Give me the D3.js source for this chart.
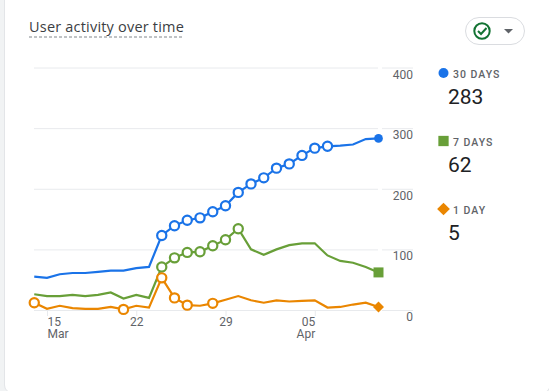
<!DOCTYPE html>
<html>
<head>
<meta charset="utf-8">
<script src="https://cdnjs.cloudflare.com/ajax/libs/d3/7.8.5/d3.min.js"></script>
<style>
  html, body { margin: 0; padding: 0; background: #f1f3f4; overflow: hidden; }
  text { font-family: Roboto, sans-serif; }
</style>
</head>
<body>
<svg id="chart" width="549" height="391"></svg>
<script>
// values
var days = ["03-14","03-15","03-16","03-17","03-18","03-19","03-20","03-21","03-22","03-23",
  "03-24","03-25","03-26","03-27","03-28","03-29","03-30","03-31","04-01","04-02",
  "04-03","04-04","04-05","04-06","04-07","04-08","04-09","04-10"];
var days30 = [55,53,59,61,61,63,65,65,69,71,123,139,148,152,162,172,194,208,218,234,241,255,267,270,271,273,282,283];
var days7 = [26,23,23,25,23,25,29,19,25,20,71,86,95,96,106,116,134,100,91,100,107,110,110,90,81,78,71,62];
var days1 = [12,2,7,3,2,2,5,1,7,4,53,20,8,7,11,17,23,16,12,16,14,15,16,4,5,9,12,5];
var open30 = ["03-24","03-25","03-26","03-27","03-28","03-29","03-30","03-31","04-01","04-02","04-03","04-04","04-05","04-06"];
var open7 = ["03-24","03-25","03-26","03-27","03-28","03-29","03-30"];
var open1 = ["03-14","03-21","03-24","03-25","03-26","03-28"];
var yTicks = [0,100,200,300,400];
var xTicks = ["03-15","03-22","03-29","04-05"];
var xLabels = ["15","22","29","05"];
var xMonths = ["Mar","","","Apr"];

var svg = d3.select("#chart");

// card
svg.append("rect")
  .attr("x", 4.5).attr("y", -20)
  .attr("width", 545.5).attr("height", 413)
  .attr("rx", 8)
  .attr("fill", "#fff")
  .attr("stroke", "#e3e5e8");

// title
svg.append("text")
  .attr("x", 29).attr("y", 32)
  .attr("font-size", 14.5)
  .attr("font-weight", 500)
  .attr("letter-spacing", "0.2")
  .attr("fill", "#3c4043")
  .style("font-family", "'Open Sans', sans-serif")
  .text("User activity over time");
svg.append("line")
  .attr("x1", 29).attr("x2", 182)
  .attr("y1", 37).attr("y2", 37)
  .attr("stroke", "#80868b")
  .attr("stroke-dasharray", "3 2");

var x = d3.scalePoint().domain(days).range([34.25, 378.5]);
var y = d3.scaleLinear().domain([0, 400]).range([310, 67.5]);

// grid, with the small gap before the labels
var yAxis = svg.append("g")
  .attr("transform", "translate(382,0)")
  .call(d3.axisRight(y).tickValues(yTicks).tickSize(31).tickPadding(0));
yAxis.select(".domain").remove();
yAxis.selectAll("line").attr("stroke", "#e8eaed");
yAxis.selectAll("text")
  .attr("x", 31).attr("dy", "10.5")
  .attr("text-anchor", "end")
  .attr("font-size", 12).attr("fill", "#5f6368");

svg.append("g").selectAll("line")
  .data(yTicks).enter().append("line")
  .attr("x1", 34).attr("x2", 378)
  .attr("y1", function(d) { return y(d) + 0.5; })
  .attr("y2", function(d) { return y(d) + 0.5; })
  .attr("stroke", "#e8eaed");

// first label hangs right of its tick, last one left of it
function xAnchor(d, i) {
  return i == 0 ? "start" : (i == xTicks.length - 1 ? "end" : "middle");
}

var xAxis = svg.append("g")
  .attr("transform", "translate(0,310)")
  .call(d3.axisBottom(x).tickValues(xTicks).tickSize(6)
    .tickFormat(function(d, i) { return xLabels[i]; }));
xAxis.select(".domain").remove();
xAxis.selectAll("line").attr("stroke", "#e8eaed");
xAxis.selectAll("text")
  .attr("y", 16).attr("dy", 0)
  .attr("text-anchor", xAnchor)
  .attr("font-size", 12).attr("fill", "#5f6368");
xAxis.selectAll(".tick").append("text")
  .attr("y", 28)
  .attr("text-anchor", xAnchor)
  .attr("font-size", 12).attr("fill", "#5f6368")
  .text(function(d, i) { return xMonths[i]; });

var line = d3.line()
  .x(function(d, i) { return x(days[i]); })
  .y(function(d) { return y(d); });

function drawSeries(values, openDays, color) {
  svg.append("path")
    .datum(values)
    .attr("d", line)
    .attr("fill", "none")
    .attr("stroke", color)
    .attr("stroke-width", 2.2);
  svg.append("g").selectAll("circle")
    .data(openDays).enter().append("circle")
    .attr("cx", function(d) { return x(d); })
    .attr("cy", function(d) { return y(values[days.indexOf(d)]); })
    .attr("r", 4.6)
    .attr("fill", "#fff")
    .attr("stroke", color)
    .attr("stroke-width", 2.2);
}

var blue = "#1a73e8", green = "#689f38", orange = "#ea8600";
drawSeries(days7, open7, green);
drawSeries(days30, open30, blue);
drawSeries(days1, open1, orange);

// end markers
var last = days[days.length - 1];
svg.append("path")
  .attr("transform", "translate(" + x(last) + "," + y(days30[27]) + ")")
  .attr("d", d3.symbol().type(d3.symbolCircle).size(60))
  .attr("fill", blue);
svg.append("path")
  .attr("transform", "translate(" + x(last) + "," + y(days7[27]) + ")")
  .attr("d", d3.symbol().type(d3.symbolSquare).size(100))
  .attr("fill", green);
svg.append("path")
  .attr("transform", "translate(" + x(last) + "," + y(days1[27]) + ") rotate(45)")
  .attr("d", d3.symbol().type(d3.symbolSquare).size(60))
  .attr("fill", orange);

// legend
function legendItem(label, value, top, symbol, color, size, rot) {
  svg.append("path")
    .attr("transform", "translate(443.5," + (top - 5) + ") rotate(" + rot + ")")
    .attr("d", d3.symbol().type(symbol).size(size))
    .attr("fill", color);
  svg.append("text")
    .attr("x", 453).attr("y", top)
    .attr("font-size", 10.5).attr("font-weight", 500)
    .attr("letter-spacing", "1")
    .attr("fill", "#5f6368")
    .text(label);
  svg.append("text")
    .attr("x", 448).attr("y", top + 26)
    .attr("font-size", 21)
    .attr("fill", "#202124")
    .text(value);
}
legendItem("30 DAYS", days30[27], 78, d3.symbolCircle, blue, 78, 0);
legendItem("7 DAYS", days7[27], 146, d3.symbolSquare, green, 106, 0);
legendItem("1 DAY", days1[27], 214, d3.symbolSquare, orange, 81, 45);

// status chip
svg.append("rect")
  .attr("x", 465.5).attr("y", 17.5)
  .attr("width", 59).attr("height", 27)
  .attr("rx", 13.5)
  .attr("fill", "#fff").attr("stroke", "#dadce0");
svg.append("circle")
  .attr("cx", 482).attr("cy", 31).attr("r", 7.7)
  .attr("fill", "none").attr("stroke", "#137333").attr("stroke-width", 2);
svg.append("path")
  .attr("d", "M478,31 L481,34 L486.5,28")
  .attr("fill", "none").attr("stroke", "#137333").attr("stroke-width", 2);
svg.append("path")
  .attr("d", "M504,29 L513,29 L508.5,33.5 Z")
  .attr("fill", "#5f6368");
</script>
</body>
</html>
